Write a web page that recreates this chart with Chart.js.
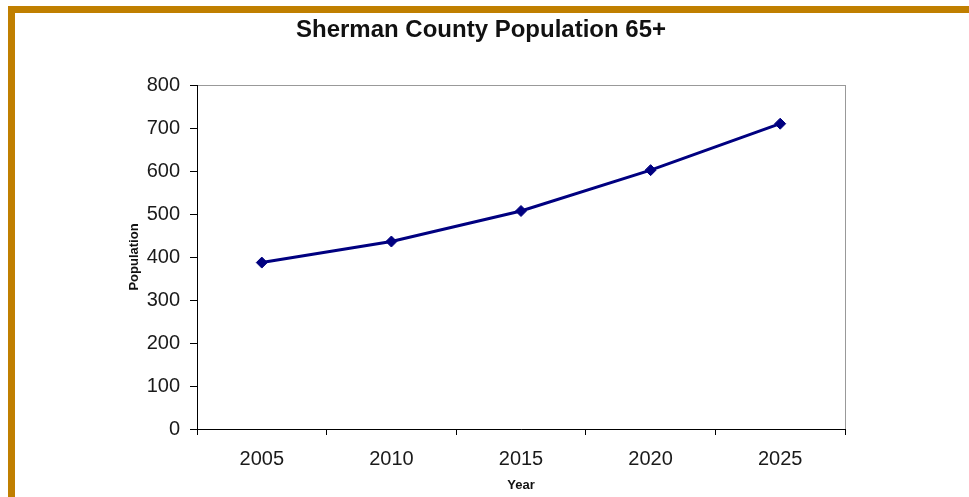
<!DOCTYPE html>
<html>
<head>
<meta charset="utf-8">
<script src="https://cdn.jsdelivr.net/npm/chart.js@4/dist/chart.umd.min.js"></script>
<style>
  html, body { margin: 0; padding: 0; background: #fff; overflow: hidden; }
  #frame {
    position: absolute; left: 8px; top: 6px; width: 1000px; height: 488px;
    border-left: 7px solid #C07F00; border-top: 7px solid #C07F00;
    border-bottom: 2px solid #F8EAC8;
  }
  #chart { position: absolute; left: 0; top: 0; }
</style>
</head>
<body>
<div id="frame"></div>
<canvas id="chart" width="969" height="497"></canvas>
<script>
const years = ["2005", "2010", "2015", "2020", "2025"];
const population = [387, 436, 507, 602, 710];
const yMin = 0;
const yMax = 800;
const yStep = 100;

const font = "'Liberation Sans', Arial, sans-serif";

// gray box for the plot area (top/right edges)
const plotBox = {
  id: "plotBox",
  beforeDraw(chart) {
    const a = chart.chartArea;
    const ctx = chart.ctx;
    ctx.save();
    ctx.strokeStyle = "#999999";
    ctx.lineWidth = 1;
    ctx.strokeRect(a.left + 0.5, a.top + 0.5, a.right - a.left, a.bottom - a.top);
    ctx.restore();
  }
};

const ctx = document.getElementById("chart").getContext("2d");
new Chart(ctx, {
  type: "line",
  data: {
    labels: years,
    datasets: [{
      label: "Population 65+",
      data: population,
      borderColor: "#000080",
      backgroundColor: "#000080",
      borderWidth: 3,
      pointStyle: "rectRot",
      pointRadius: 5.5,
      pointBorderWidth: 1,
      tension: 0
    }]
  },
  options: {
    responsive: false,
    animation: false,
    layout: { padding: { left: 0, right: 7, top: 0, bottom: 0 } },
    plugins: {
      legend: { display: false },
      tooltip: { enabled: false },
      title: {
        display: true,
        text: "Sherman County Population 65+",
        color: "#111",
        font: { family: font, size: 24, weight: "bold" },
        padding: { top: 15.5, bottom: 40.7 }
      }
    },
    scales: {
      x: {
        offset: true,
        grid: { display: true, offset: true, drawOnChartArea: false, drawTicks: true, tickLength: 6, color: "#000" },
        border: { display: true, color: "#000", width: 1 },
        ticks: { color: "#1a1a1a", font: { family: font, size: 20 }, padding: 12.5, maxRotation: 0 },
        title: { display: true, text: "Year", color: "#111", font: { family: font, size: 13, weight: "bold" }, padding: { top: 2, bottom: 4 } },
        afterFit(scale) { scale.height = 68; }
      },
      y: {
        min: yMin,
        max: yMax,
        grid: { display: true, drawOnChartArea: false, drawTicks: true, tickLength: 7, color: "#000" },
        border: { display: true, color: "#000", width: 1 },
        ticks: { stepSize: yStep, color: "#1a1a1a", font: { family: font, size: 20 }, padding: 10 },
        title: { display: true, text: "Population", color: "#111", font: { family: font, size: 13, weight: "bold" }, padding: { top: 127, bottom: 0 } },
        afterFit(scale) { scale.width = 197; }
      },
      y2: {
        position: "right",
        display: true,
        grid: { display: false },
        border: { display: false },
        ticks: { display: false },
        afterFit(scale) { scale.width = 117; }
      }
    }
  },
  plugins: [plotBox]
});
</script>
</body>
</html>
